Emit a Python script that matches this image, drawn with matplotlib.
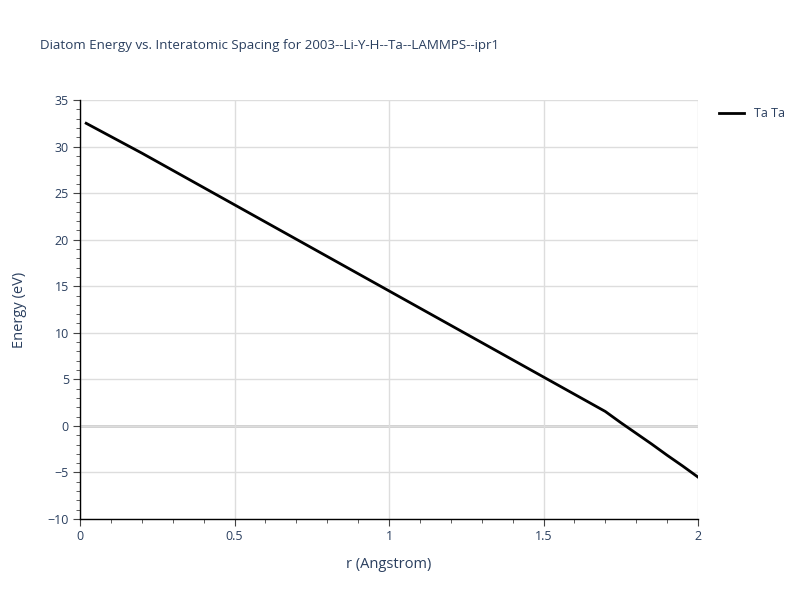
import matplotlib
matplotlib.use("Agg")
import matplotlib.pyplot as plt
from matplotlib.ticker import MultipleLocator

# values
r_values = [0.02, 0.2, 0.4, 0.6, 0.8, 1.0, 1.2, 1.4, 1.6, 1.7, 1.75, 1.8, 1.85, 1.9, 1.95, 2.0]
energy_values = [32.5, 29.3, 25.6, 21.9, 18.2, 14.5, 10.8, 7.1, 3.4, 1.55, 0.35, -0.8,
                 -1.95, -3.15, -4.3, -5.5]
series_name = "Ta Ta"
title = "Diatom Energy vs. Interatomic Spacing for 2003--Li-Y-H--Ta--LAMMPS--ipr1"

text_color = "#2a3f5f"
grid_color = "#dddddd"
plt.rcParams["font.family"] = ["Open Sans", "DejaVu Sans"]

fig = plt.figure(figsize=(8, 6), dpi=100)
ax = fig.add_axes([0.1, 0.135, 0.7725, 0.6983])

ax.plot(r_values, energy_values, color="black", linewidth=2, label=series_name, zorder=3)

ax.set_xlim(0, 2)
ax.set_ylim(-10, 35)
ax.xaxis.set_minor_locator(MultipleLocator(0.1))
ax.yaxis.set_minor_locator(MultipleLocator(1))
ax.set_xticks([0, 0.5, 1, 1.5, 2])
ax.set_xticklabels(["0", "0.5", "1", "1.5", "2"])
ax.set_yticks(range(-10, 36, 5))
ax.set_yticklabels([str(v).replace("-", "\u2212") for v in range(-10, 36, 5)])

ax.grid(True, which="major", color=grid_color, linewidth=1, zorder=0)
ax.axhline(0, color="#cccccc", linewidth=2, zorder=1)

for side in ["top", "right"]:
    ax.spines[side].set_visible(False)
for side in ["left", "bottom"]:
    ax.spines[side].set_color("black")
    ax.spines[side].set_linewidth(1)

ax.tick_params(which="major", length=5, color="#444444", labelsize=9,
               labelcolor=text_color, direction="out", pad=3)
ax.tick_params(which="minor", length=3, color="#444444", direction="out")

ax.set_xlabel("r (Angstrom)", fontsize=10.5, color=text_color, labelpad=10)
ax.set_ylabel("Energy (eV)", fontsize=10.5, color=text_color, labelpad=15)

fig.text(0.05, 0.925, title, fontsize=9.6, color=text_color, ha="left", va="center")

ax.legend(loc="upper left", bbox_to_anchor=(1.015, 1.01), frameon=False,
          fontsize=9, labelcolor=text_color, handlelength=2.0)

fig.savefig("out.png", dpi=100)
